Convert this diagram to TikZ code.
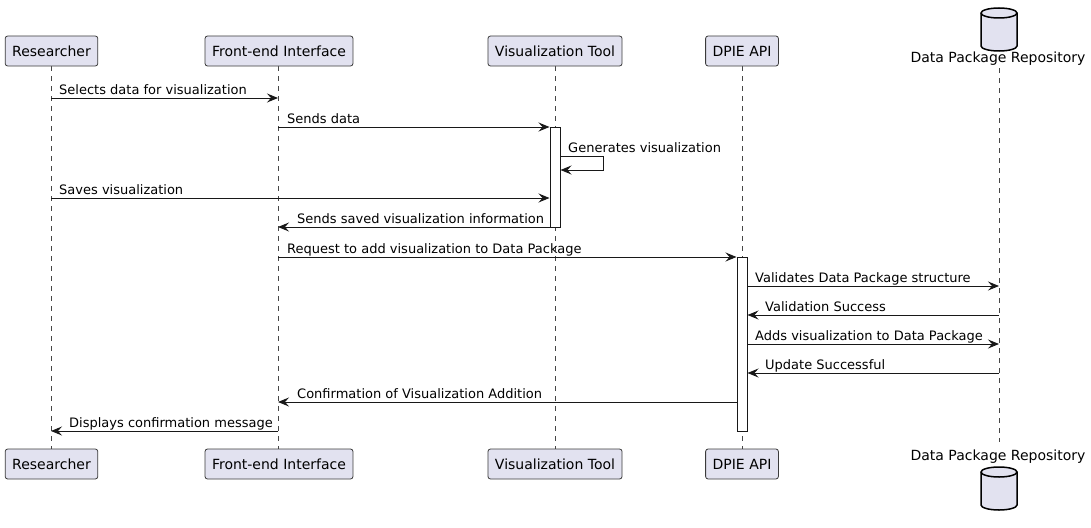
\documentclass[tikz,border=0pt]{standalone}
\usepackage{fontspec}
\setmainfont{DejaVu Sans}
\usetikzlibrary{arrows.meta}
\definecolor{boxfill}{HTML}{E2E2F0}
\definecolor{boxline}{HTML}{181818}
\tikzset{
  part/.style={draw=boxline!85, fill=boxfill, line width=0.8pt, rounded corners=2.5pt, minimum height=30pt, inner xsep=7pt, font=\fontsize{14}{16}\selectfont},
  life/.style={draw=boxline!80, line width=0.7pt, dash pattern=on 5pt off 5pt},
  msg/.style={draw=boxline, line width=1pt, -{Stealth[length=11pt,width=9pt,inset=4pt]}},
  lbl/.style={anchor=base west, inner sep=0pt, font=\fontsize{13}{15}\selectfont},
  act/.style={draw=boxline, fill=white, line width=1pt},
  dbtext/.style={inner sep=0pt, font=\fontsize{14}{16}\selectfont},
}
\begin{document}
\begin{tikzpicture}[x=1pt,y=-1pt]
\useasboundingbox (0,0) rectangle (1091,527);
% lifeline x positions
\coordinate (R) at (51,0);
\coordinate (F) at (278,0);
\coordinate (V) at (555,0);
\coordinate (D) at (742,0);
\coordinate (P) at (999,0);
% lifelines
\draw[life] (51,66) -- (51,449);
\draw[life] (278,66) -- (278,449);
\draw[life] (555,66) -- (555,449);
\draw[life] (742,66) -- (742,449);
\draw[life] (999,68) -- (999,442);
% participants top
\node[part] (rt) at (51.5,51) {Researcher};
\node[part] (ft) at (279,51) {Front-end Interface};
\node[part] (vt) at (555,51) {Visualization Tool};
\node[part] (dt) at (742,51) {DPIE API};
% participants bottom
\node[part] (rb) at (51.5,464) {Researcher};
\node[part] (fb) at (279,464) {Front-end Interface};
\node[part] (vb) at (555,464) {Visualization Tool};
\node[part] (db) at (742,464) {DPIE API};
% database top
\begin{scope}[line width=1.5pt, draw=black]
\path[draw, fill=boxfill] (981,13) -- (981,46) arc[start angle=180,end angle=360,x radius=18,y radius=-5] -- (1017,13) arc[start angle=0,end angle=180,x radius=18,y radius=-5] -- cycle;
\draw (981,13) arc[start angle=180,end angle=360,x radius=18,y radius=-5];
\end{scope}
\node[dbtext, anchor=base] (pt) at (998,63) {Data Package Repository};
% database bottom
\node[dbtext, anchor=base] (pb) at (998,460) {Data Package Repository};
\begin{scope}[line width=1.5pt, draw=black]
\path[draw, fill=boxfill] (981,472) -- (981,505) arc[start angle=180,end angle=360,x radius=18,y radius=-5] -- (1017,472) arc[start angle=0,end angle=180,x radius=18,y radius=-5] -- cycle;
\draw (981,472) arc[start angle=180,end angle=360,x radius=18,y radius=-5];
\end{scope}
% activations
\node[act, minimum width=10pt, minimum height=100pt, inner sep=0pt, anchor=north] (va) at (555,127) {};
\node[act, minimum width=10pt, minimum height=174pt, inner sep=0pt, anchor=north] (da) at (742,257) {};
% messages
\draw[msg] (R |- 0,98) -- (F |- 0,98);
\node[lbl] (l1) at (59,94) {Selects data for visualization};
\draw[msg] (F |- 0,127) -- (va.west |- 0,127);
\node[lbl] (l2) at (287,123) {Sends data};
\draw[msg] (va.east |- 0,156) -- (603,156) -- (603,170) -- (va.east |- 0,170);
\node[lbl] (l3) at (568,152) {Generates visualization};
\draw[msg] (R |- 0,198) -- (va.west |- 0,198);
\node[lbl] (l4) at (59,194) {Saves visualization};
\draw[msg] (va.west |- 0,227) -- (F |- 0,227);
\node[lbl] (l5) at (297,223) {Sends saved visualization information};
\draw[msg] (F |- 0,257) -- (da.west |- 0,257);
\node[lbl] (l6) at (287,253) {Request to add visualization to Data Package};
\draw[msg] (da.east |- 0,286) -- (P |- 0,286);
\node[lbl] (l7) at (755,282) {Validates Data Package structure};
\draw[msg] (P |- 0,315) -- (da.east |- 0,315);
\node[lbl] (l8) at (765,311) {Validation Success};
\draw[msg] (da.east |- 0,344) -- (P |- 0,344);
\node[lbl] (l9) at (755,340) {Adds visualization to Data Package};
\draw[msg] (P |- 0,373) -- (da.east |- 0,373);
\node[lbl] (l10) at (765,369) {Update Successful};
\draw[msg] (da.west |- 0,402) -- (F |- 0,402);
\node[lbl] (l11) at (297,398) {Confirmation of Visualization Addition};
\draw[msg] (F |- 0,431) -- (R |- 0,431);
\node[lbl] (l12) at (69,427) {Displays confirmation message};
\end{tikzpicture}
\end{document}
